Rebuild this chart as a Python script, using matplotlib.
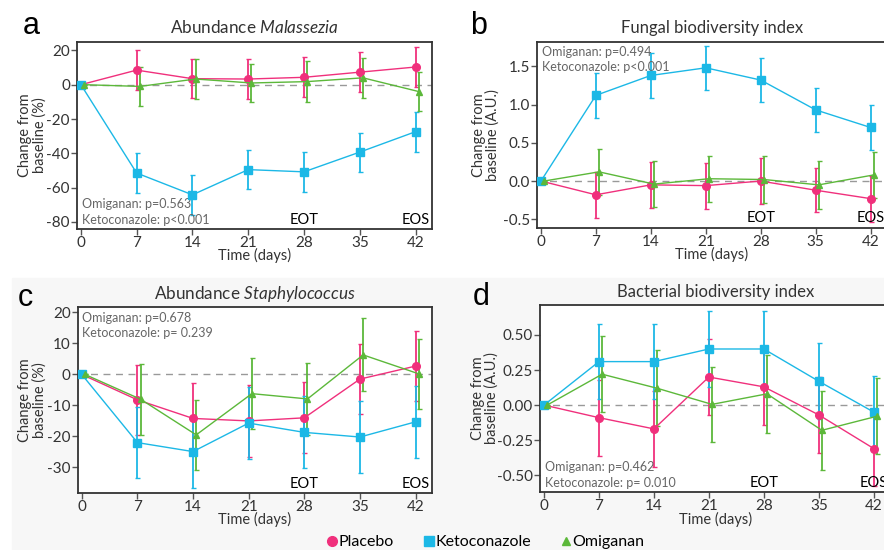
import numpy as np
import matplotlib.pyplot as plt
from matplotlib.patches import Rectangle
from matplotlib.lines import Line2D

plt.rcParams["font.family"] = ["Lato", "DejaVu Sans"]
plt.rcParams["mathtext.fontset"] = "custom"
plt.rcParams["mathtext.rm"] = "Lato"
plt.rcParams["mathtext.it"] = "Lato:italic"

days = [0, 7, 14, 21, 28, 35, 42]
groups = ["Placebo", "Ketoconazole", "Omiganan"]
colors = {"Placebo": "#f0307c", "Ketoconazole": "#1cb8e6", "Omiganan": "#5cb83a"}
markers = {"Placebo": "o", "Ketoconazole": "s", "Omiganan": "^"}
shift = {"Placebo": 0.0, "Ketoconazole": 0.0, "Omiganan": 0.4}

# a - Abundance Malassezia (%)
a_mean = {
    "Placebo": [0, 8.5, 3.5, 3.3, 4.3, 7.3, 10.3],
    "Ketoconazole": [0, -51.5, -64.2, -49.5, -50.8, -39.3, -27.4],
    "Omiganan": [0, -1.0, 3.3, 1.0, 1.8, 4.0, -4.0],
}
a_err = {
    "Placebo": [0, 11.5, 11.5, 11.5, 11.6, 11.6, 11.7],
    "Ketoconazole": [0, 11.5, 11.5, 11.5, 11.7, 11.4, 11.6],
    "Omiganan": [0, 11.2, 11.5, 11.2, 11.8, 11.8, 11.3],
}

# b - Fungal biodiversity index (A.U.)
b_mean = {
    "Placebo": [0, -0.18, -0.05, -0.06, 0.0, -0.12, -0.23],
    "Ketoconazole": [0, 1.12, 1.38, 1.48, 1.32, 0.93, 0.70],
    "Omiganan": [0, 0.12, -0.04, 0.03, 0.02, -0.05, 0.08],
}
b_err = {
    "Placebo": [0, 0.30, 0.30, 0.30, 0.30, 0.29, 0.30],
    "Ketoconazole": [0, 0.29, 0.29, 0.29, 0.29, 0.29, 0.29],
    "Omiganan": [0, 0.30, 0.30, 0.30, 0.31, 0.31, 0.30],
}

# c - Abundance Staphylococcus (%)
c_mean = {
    "Placebo": [0, -8.2, -14.2, -15.0, -14.0, -1.5, 2.7],
    "Ketoconazole": [0, -22.0, -24.9, -15.7, -18.7, -20.2, -15.3],
    "Omiganan": [0, -8.0, -19.5, -6.2, -7.9, 6.3, 0.2],
}
c_err = {
    "Placebo": [0, 11.3, 11.4, 11.5, 11.4, 11.4, 11.3],
    "Ketoconazole": [0, 11.5, 11.6, 11.5, 11.6, 11.6, 11.6],
    "Omiganan": [0, 11.4, 11.3, 11.4, 11.6, 11.8, 11.3],
}

# d - Bacterial biodiversity index (A.U.)
d_mean = {
    "Placebo": [0, -0.09, -0.17, 0.20, 0.13, -0.07, -0.31],
    "Ketoconazole": [0, 0.31, 0.31, 0.40, 0.40, 0.17, -0.05],
    "Omiganan": [0, 0.22, 0.12, 0.005, 0.08, -0.18, -0.08],
}
d_err = {
    "Placebo": [0, 0.27, 0.27, 0.27, 0.27, 0.27, 0.27],
    "Ketoconazole": [0, 0.27, 0.27, 0.27, 0.27, 0.27, 0.26],
    "Omiganan": [0, 0.27, 0.27, 0.27, 0.28, 0.28, 0.27],
}

fig = plt.figure(figsize=(8.84, 5.5), dpi=100)
fig.patches.append(Rectangle((0.014, 0), 0.986, 0.4945, transform=fig.transFigure,
                             color="#f7f7f7", zorder=-10))

# letter, axes rect, means, errors, ylim, yticks, ytick labels, ylabel, title,
# p-value texts, p-value y positions, ylabel x, letter position (px)
panels = [
    ("a", [0.087, 0.584, 0.402, 0.340], a_mean, a_err, (-84, 25), [-80, -60, -40, -20, 0, 20],
     ["-80", "-60", "-40", "-20", "0", "20"], "Change from\nbaseline (%)",
     ("Abundance ", "Malassezia"), ["Omiganan: p=0.563", "Ketoconazole: p<0.001"],
     (0.134, 0.045), -0.085, (23, 34)),
    ("b", [0.6075, 0.586, 0.396, 0.338], b_mean, b_err, (-0.61, 1.82), [-0.5, 0, 0.5, 1.0, 1.5],
     ["-0.5", "0.0", "0.5", "1.0", "1.5"], "Change from\nbaseline (A.U.)",
     ("Fungal biodiversity index", None), ["Omiganan: p=0.494", "Ketoconazole: p<0.001"],
     (0.946, 0.862), -0.106, (470, 34)),
    ("c", [0.088, 0.104, 0.401, 0.338], c_mean, c_err, (-38.2, 21.8), [-30, -20, -10, 0, 10, 20],
     ["-30", "-20", "-10", "0", "10", "20"], "Change from\nbaseline (%)",
     ("Abundance ", "Staphylococcus"), ["Omiganan: p=0.678", "Ketoconazole: p= 0.239"],
     (0.942, 0.859), -0.088, (18, 306)),
    ("d", [0.611, 0.1055, 0.396, 0.340], d_mean, d_err, (-0.62, 0.714), [-0.5, -0.25, 0, 0.25, 0.5],
     ["-0.50", "-0.25", "0.00", "0.25", "0.50"], "Change from\nbaseline (A.U.)",
     ("Bacterial biodiversity index", None), ["Omiganan: p=0.462", "Ketoconazole: p= 0.010"],
     (0.135, 0.05), -0.117, (473, 305)),
]

for (letter, pos, means, errs, ylim, yticks, ylabels, ylab, title, ptext, py,
     ylab_x, lpos) in panels:
    ax = fig.add_axes(pos)
    ax.axhline(0, color="#999999", linestyle=(0, (5, 4)), linewidth=1, zorder=1)
    for g in groups:
        x = np.array(days) + shift[g]
        ax.errorbar(x, means[g], yerr=errs[g], color=colors[g], marker=markers[g],
                    markersize=5.5 if g != "Omiganan" else 5, linewidth=1,
                    elinewidth=1.3, capsize=1.8, capthick=1, ecolor=colors[g],
                    zorder=3)
    ax.set_xlim(-0.5, 44.1)
    ax.set_ylim(*ylim)
    ax.set_xticks(days)
    ax.set_xticklabels([str(d) for d in days], fontsize=11, color="#333333")
    ax.set_yticks(yticks)
    ax.set_yticklabels(ylabels, fontsize=11, color="#333333")
    ax.tick_params(length=4, width=1, color="#555555", pad=1)
    for s in ax.spines.values():
        s.set_color("#333333")
        s.set_linewidth(1.3)
    ax.set_xlabel("Time (days)", fontsize=10.5, labelpad=-1, color="#333333")
    ax.set_ylabel(ylab, fontsize=10.5, color="#333333", linespacing=1.0)
    ax.yaxis.set_label_coords(ylab_x, 0.5)

    if title[1] is None:
        ax.set_title(title[0], fontsize=12, color="#333333", pad=6)
    else:
        ax.set_title(title[0] + r"$\it{" + title[1] + "}$", fontsize=12.3,
                     color="#333333", pad=6)

    for t, yy in zip(ptext, py):
        ax.text(0.013, yy, t, transform=ax.transAxes, fontsize=9, color="#666666",
                va="center")

    for xd, lab in [(28, "EOT"), (42, "EOS")]:
        ax.text(xd, ylim[0] + 0.012 * (ylim[1] - ylim[0]), lab, ha="center",
                va="bottom", fontsize=10.5, color="black")

    fig.text(lpos[0] / 884, 1 - lpos[1] / 550, letter, fontsize=22,
             family="Liberation Sans", va="baseline")

handles = [Line2D([], [], color=colors[g], marker=markers[g], linestyle="none",
                  markersize=7 if g != "Omiganan" else 6) for g in groups]
fig.legend(handles, groups, loc="lower center", bbox_to_anchor=(0.549, -0.025), ncol=3,
           frameon=False, fontsize=11.5, handletextpad=0.0, columnspacing=1.8,
           handlelength=0.8)

fig.savefig("out.png", dpi=100)
